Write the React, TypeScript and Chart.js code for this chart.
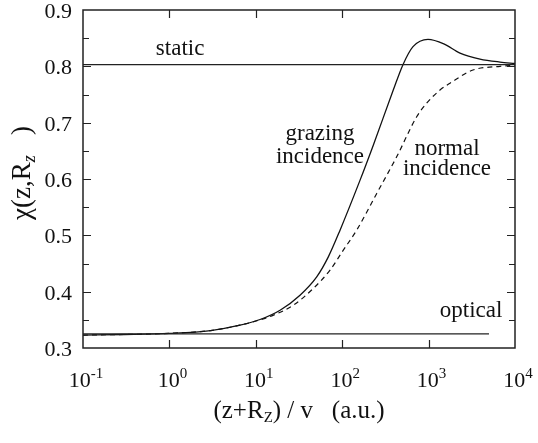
import React, { useEffect, useRef } from "react";
import { Chart, registerables } from "chart.js";

Chart.register(...registerables);

const SERIF = '"Liberation Serif", serif';

// Susceptibility chi(z, Rz) versus (z+Rz)/v on a log axis
const grazingX = [0.1, 0.3, 1, 3, 6.56, 11.2, 19.1, 32.5, 50.7, 69.1, 94.4, 161, 229, 390, 505, 660, 984, 1500, 2307, 3933, 6700, 10000];
const grazingY = [0.323, 0.324, 0.326, 0.331, 0.3405, 0.3506, 0.3671, 0.3938, 0.4263, 0.4618, 0.5092, 0.598, 0.66, 0.7579, 0.803, 0.835, 0.848, 0.84, 0.8236, 0.813, 0.8076, 0.805];

const normalX = [0.1, 0.3, 1, 3, 6.56, 11.2, 16.0, 27.2, 46.3, 72.3, 103, 147, 251, 427, 728, 955, 1355, 1767, 3266, 6700, 10000];
const normalY = [0.323, 0.324, 0.326, 0.331, 0.3405, 0.35, 0.3583, 0.376, 0.4057, 0.4382, 0.4737, 0.5092, 0.5744, 0.6394, 0.7105, 0.735, 0.7579, 0.77, 0.7934, 0.8, 0.802];

const staticX = [0.1, 10000];
const staticY = [0.803, 0.803];

const opticalX = [0.1, 5000];
const opticalY = [0.325, 0.325];

const xDecades = [0.1, 1, 10, 100, 1000, 10000];
const xExponents = ["-1", "0", "1", "2", "3", "4"];

const yTicks = [0.3, 0.4, 0.5, 0.6, 0.7, 0.8, 0.9];
const yMin = 0.3;
const yMax = 0.9;

// In-plot text labels, anchored in data coordinates (x centre, y baseline)
const curveLabels = [
  { text: "static", x: 1.33, y: 0.82 },
  { text: "grazing", x: 55.3, y: 0.669 },
  { text: "incidence", x: 55.3, y: 0.628 },
  { text: "normal", x: 1633, y: 0.6425 },
  { text: "incidence", x: 1633, y: 0.607 },
  { text: "optical", x: 3100, y: 0.3547 },
];

const toPoints = (xs: number[], ys: number[]) => xs.map((x, i) => ({ x, y: ys[i] }));

type Part = { t: string; size: number; dy?: number; italic?: boolean };

function fontFor(p: Part) {
  return (p.italic ? "italic " : "") + p.size + "px " + SERIF;
}

function drawParts(ctx: CanvasRenderingContext2D, parts: Part[], x0: number, baseline: number, align: "center" | "right" = "center") {
  let w = 0;
  for (const p of parts) {
    ctx.font = fontFor(p);
    w += ctx.measureText(p.t).width;
  }
  let x = align === "center" ? x0 - w / 2 : x0 - w;
  ctx.textAlign = "left";
  ctx.textBaseline = "alphabetic";
  for (const p of parts) {
    ctx.font = fontFor(p);
    ctx.fillText(p.t, x, baseline + (p.dy || 0));
    x += ctx.measureText(p.t).width;
  }
}

const framePlugin = {
  id: "frameAndText",
  afterDraw(chart: any) {
    const { ctx, chartArea: a, scales } = chart;
    const xs = scales.x;
    const ys = scales.y;
    ctx.save();
    ctx.strokeStyle = "#222";
    ctx.fillStyle = "#111";

    // frame
    ctx.lineWidth = 1.5;
    ctx.strokeRect(a.left, a.top, a.right - a.left, a.bottom - a.top);

    // inward tick marks on the value axis (left and right)
    ctx.lineWidth = 1.2;
    for (let k = 1; k < 12; k++) {
      const v = yMin + k * 0.05;
      const py = Math.round(ys.getPixelForValue(v)) + 0.5;
      const len = k % 2 === 0 ? 8 : 6;
      ctx.beginPath();
      ctx.moveTo(a.left, py);
      ctx.lineTo(a.left + len, py);
      ctx.moveTo(a.right, py);
      ctx.lineTo(a.right - len, py);
      ctx.stroke();
    }
    // inward decade ticks (bottom and top)
    for (let i = 1; i < xDecades.length - 1; i++) {
      const px = Math.round(xs.getPixelForValue(xDecades[i])) + 0.5;
      ctx.beginPath();
      ctx.moveTo(px, a.bottom);
      ctx.lineTo(px, a.bottom - 8);
      ctx.moveTo(px, a.top);
      ctx.lineTo(px, a.top + 8);
      ctx.stroke();
    }

    // value axis labels
    for (const v of yTicks) {
      const py = ys.getPixelForValue(v);
      drawParts(ctx, [{ t: v.toFixed(1), size: 22 }], a.left - 11, py + 8, "right");
    }

    // decade labels with superscript exponents
    for (let i = 0; i < xDecades.length; i++) {
      const px = xs.getPixelForValue(xDecades[i]);
      drawParts(ctx, [
        { t: "10", size: 22 },
        { t: xExponents[i], size: 15, dy: -9 },
      ], px + 3, a.bottom + 39);
    }

    // curve annotations
    for (const l of curveLabels) {
      const px = xs.getPixelForValue(l.x);
      const py = ys.getPixelForValue(l.y);
      drawParts(ctx, [{ t: l.text, size: 23 }], px, py);
    }

    // x axis title
    drawParts(ctx, [
      { t: "(z+R", size: 25 },
      { t: "Z", size: 15, dy: 4 },
      { t: ") / v   (a.u.)", size: 25 },
    ], (a.left + a.right) / 2, a.bottom + 70);

    // y axis title, rotated
    ctx.save();
    ctx.translate(a.left - 53, (a.top + a.bottom) / 2 - 6);
    ctx.rotate(-Math.PI / 2);
    drawParts(ctx, [
      { t: "\u03C7(z,R", size: 27 },
      { t: "z", size: 18, dy: 5, italic: true },
      { t: "   )", size: 27 },
    ], 0, 0);
    ctx.restore();

    ctx.restore();
  },
};

export default function App() {
  const ref = useRef<HTMLCanvasElement>(null);

  useEffect(() => {
    document.body.style.margin = "0";
    const canvas = ref.current;
    if (!canvas) return;

    const chart = new Chart(canvas, {
      type: "line",
      data: {
        datasets: [
          {
            label: "static",
            data: toPoints(staticX, staticY),
            borderColor: "#222",
            borderWidth: 1.3,
            pointRadius: 0,
          },
          {
            label: "optical",
            data: toPoints(opticalX, opticalY),
            borderColor: "#222",
            borderWidth: 1.3,
            pointRadius: 0,
          },
          {
            label: "grazing incidence",
            data: toPoints(grazingX, grazingY),
            borderColor: "#111",
            borderWidth: 1.3,
            pointRadius: 0,
            cubicInterpolationMode: "monotone",
          },
          {
            label: "normal incidence",
            data: toPoints(normalX, normalY),
            borderColor: "#111",
            borderWidth: 1.2,
            borderDash: [5, 4],
            pointRadius: 0,
            cubicInterpolationMode: "monotone",
          },
        ],
      },
      options: {
        responsive: false,
        maintainAspectRatio: false,
        animation: false,
        devicePixelRatio: 1,
        layout: { padding: { top: 10, right: 23, left: 0, bottom: 0 } },
        plugins: {
          legend: { display: false },
          tooltip: { enabled: false },
        },
        scales: {
          x: {
            type: "logarithmic",
            min: 0.1,
            max: 10000,
            ticks: { display: false },
            grid: { display: false, drawTicks: false },
            border: { display: false },
            afterFit: (s: any) => {
              s.height = 95;
            },
          },
          y: {
            type: "linear",
            min: yMin,
            max: yMax,
            ticks: { display: false },
            grid: { display: false, drawTicks: false },
            border: { display: false },
            afterFit: (s: any) => {
              s.width = 83;
            },
          },
        },
      },
      plugins: [framePlugin],
    });

    return () => chart.destroy();
  }, []);

  return (
    <div style={{ width: 538, height: 443 }}>
      <canvas ref={ref} width={538} height={443} />
    </div>
  );
}
